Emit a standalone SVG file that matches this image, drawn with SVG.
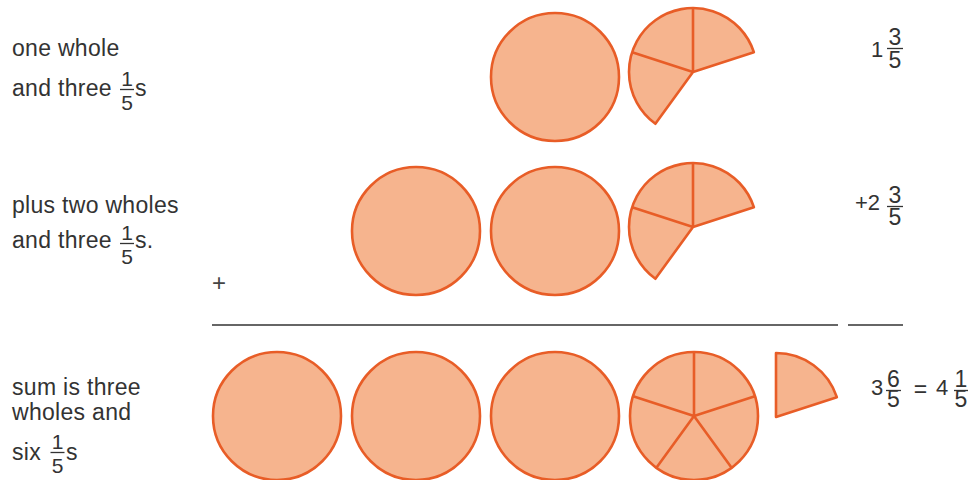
<svg xmlns="http://www.w3.org/2000/svg" xmlns:xlink="http://www.w3.org/1999/xlink" width="972" height="480" viewBox="0 0 972 480">
<style>
.t{font-family:"Liberation Sans",Arial,sans-serif;font-size:23px;letter-spacing:0.3px;fill:#333}
.f{font-family:"Liberation Sans",Arial,sans-serif;font-size:21px;fill:#333;text-anchor:middle}
.w{font-family:"Liberation Sans",Arial,sans-serif;font-size:22px;fill:#333}
.rf{font-family:"Liberation Sans",Arial,sans-serif;font-size:23px;fill:#333;text-anchor:middle}
.bar{stroke:#333;stroke-width:1.3}
.pie{fill:#F6B48E;stroke:#E85D27;stroke-width:2.6;stroke-linejoin:round}
.sp{fill:none;stroke:#E85D27;stroke-width:2.6}
.rule{stroke:#333;stroke-width:1.5}
</style>
<defs>
<circle id="whole" r="64" class="pie"/>
<g id="pie3">
<path class="pie" d="M0,0 L60.87,-19.78 A64,64 0 1 0 -37.62,51.78 Z"/>
<path class="sp" d="M0,0 V-64 M0,0 L-60.87,-19.78"/>
</g>
<g id="pie5">
<circle r="64" class="pie"/>
<path class="sp" d="M0,0 V-64 M0,0 L60.87,-19.78 M0,0 L37.62,51.78 M0,0 L-37.62,51.78 M0,0 L-60.87,-19.78"/>
</g>
<path id="slice" class="pie" d="M0,0 L60.87,-19.78 A64,64 0 0 0 0,-64 Z"/>
</defs>

<g id="label-row1">
<text class="t" x="12" y="56">one whole</text>
<text class="t" x="12" y="96">and three</text>
<text class="f" x="127" y="86">1</text>
<line class="bar" x1="120" y1="89.5" x2="134" y2="89.5"/>
<text class="f" x="127" y="110">5</text>
<text class="t" x="135" y="96">s</text>
</g>
<g id="label-row2">
<text class="t" x="12" y="213">plus two wholes</text>
<text class="t" x="12" y="248">and three</text>
<text class="f" x="127" y="240">1</text>
<line class="bar" x1="120" y1="243.5" x2="134" y2="243.5"/>
<text class="f" x="127" y="264">5</text>
<text class="t" x="135" y="248">s.</text>
</g>
<g id="label-row3">
<text class="t" x="12" y="395">sum is three</text>
<text class="t" x="12" y="420">wholes and</text>
<text class="t" x="12" y="460">six</text>
<text class="f" x="57.5" y="449">1</text>
<line class="bar" x1="50.5" y1="452.5" x2="64.5" y2="452.5"/>
<text class="f" x="57.5" y="473">5</text>
<text class="t" x="66" y="460">s</text>
</g>

<g id="row1-shapes">
<use xlink:href="#whole" x="555" y="77"/>
<use xlink:href="#pie3" x="693" y="72"/>
</g>
<g id="row2-shapes">
<use xlink:href="#whole" x="416" y="231"/>
<use xlink:href="#whole" x="555" y="231"/>
<use xlink:href="#pie3" x="693" y="227"/>
</g>
<g id="row3-shapes">
<use xlink:href="#whole" x="277" y="416"/>
<use xlink:href="#whole" x="416" y="416"/>
<use xlink:href="#whole" x="555" y="416"/>
<use xlink:href="#pie5" x="694" y="416"/>
<use xlink:href="#slice" x="776" y="417"/>
</g>

<g id="value-row1">
<text class="w" x="871" y="57">1</text>
<text class="rf" x="895" y="45">3</text>
<line class="bar" x1="887" y1="48.5" x2="903" y2="48.5"/>
<text class="rf" x="895" y="68">5</text>
</g>
<g id="value-row2">
<text class="w" x="855" y="210">+2</text>
<text class="rf" x="895" y="203">3</text>
<line class="bar" x1="887" y1="206.5" x2="903" y2="206.5"/>
<text class="rf" x="895" y="225">5</text>
</g>
<g id="value-row3">
<text class="w" x="871" y="395">3</text>
<text class="rf" x="893.5" y="387">6</text>
<line class="bar" x1="886" y1="390.5" x2="901" y2="390.5"/>
<text class="rf" x="893.5" y="407">5</text>
<text class="rf" x="920.5" y="397">=</text>
<text class="w" x="936" y="395">4</text>
<text class="rf" x="961" y="387">1</text>
<line class="bar" x1="954" y1="390.5" x2="968" y2="390.5"/>
<text class="rf" x="961" y="407">5</text>
</g>

<g id="connectors">
<text x="219" y="291" style="font-family:'Liberation Sans',Arial,sans-serif;font-size:24px;fill:#444;text-anchor:middle">+</text>
<line class="rule" x1="212" y1="325" x2="838" y2="325"/>
<line class="rule" x1="848" y1="325" x2="903" y2="325"/>
</g>
</svg>
